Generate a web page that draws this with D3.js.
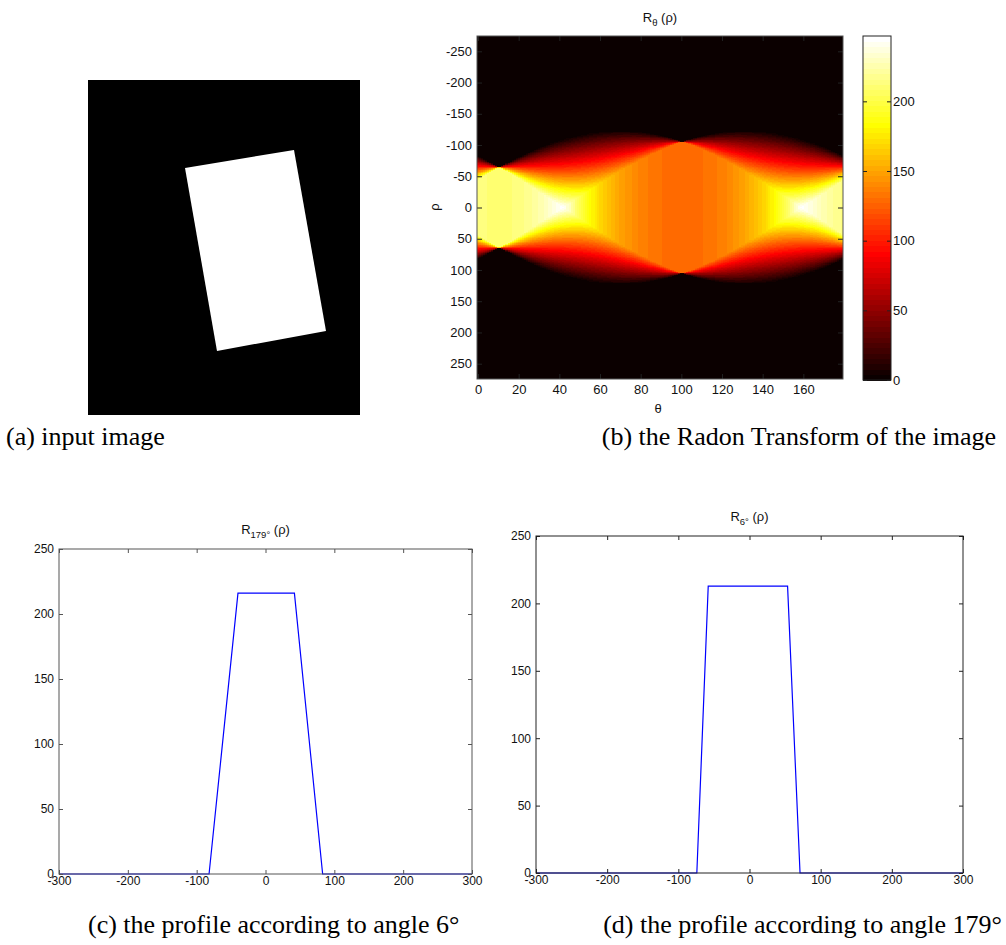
<!DOCTYPE html>
<html>
<head>
<meta charset="utf-8">
<script src="https://cdn.jsdelivr.net/npm/d3@7"></script>
<style>
  body { margin: 0; background: #fff; }
  svg { display: block; }
</style>
</head>
<body>
<div id="figure"></div>
<script>
// (a) input image: corners of the white rectangle, in image pixels
const imageSize = [272, 335];
const rectCorners = [[97, 88], [206, 70], [238, 251], [129, 271]];

// (b) radon transform of a rectangle: side lengths and rotation
const rectSides = [129, 211];
const rectAngle = 10.5;
const thetaValues = d3.range(0, 180);
const rhoMax = 274;
const thetaTicks = [0, 20, 40, 60, 80, 100, 120, 140, 160];
const rhoTicks = [-250, -200, -150, -100, -50, 0, 50, 100, 150, 200, 250];
const colorTicks = [0, 50, 100, 150, 200];

// (c), (d) profiles
const profileCRho = [-300, -82, -40, 42, 83, 300];
const profileCValue = [0, 0, 216, 216, 0, 0];
const profileDRho = [-300, -74, -58, 53.5, 71, 300];
const profileDValue = [0, 0, 212.8, 212.8, 0, 0];
const profileXTicks = [-300, -200, -100, 0, 100, 200, 300];
const profileYTicks = [0, 50, 100, 150, 200, 250];

const captions = [
    "(a) input image",
    "(b) the Radon Transform of the image",
    "(c) the profile according to angle 6°",
    "(d) the profile according to angle 179°"
];

var width = 1006;
var height = 945;
var sans = "'Liberation Sans', Arial, Helvetica, sans-serif";
var serif = "'Liberation Serif', 'Times New Roman', serif";
var plain = d => String(d); // hyphen minus like matlab, not d3's unicode minus

var svg = d3.select("#figure")
    .append("svg")
        .attr("width", width)
        .attr("height", height)
        .attr("viewBox", [0, 0, width, height]);

// matlab hot(64)
var hot = d3.range(64).map(i => {
    var k = i + 1;
    var r = Math.min(1, k / 24);
    var g = Math.max(0, Math.min(1, (k - 24) / 24));
    var b = Math.max(0, Math.min(1, (k - 48) / 16));
    return d3.rgb(r * 255, g * 255, b * 255).formatHex();
});

// inward ticks on all four sides, like a matlab box
function boxAxes(g, x, y, xTicks, yTicks, opts) {
    var color = opts.color;
    var len = opts.tick;
    var fs = opts.fontSize;
    var x0 = x.range()[0], x1 = x.range()[1];
    var y0 = y.range()[0], y1 = y.range()[1];

    g.append("g")
        .attr("transform", `translate(0,${y0})`)
        .call(d3.axisBottom(x).tickValues(xTicks).tickFormat(plain).tickSize(-len).tickSizeOuter(0).tickPadding(opts.xPad))
        .call(a => a.select(".domain").remove());
    g.append("g")
        .attr("transform", `translate(0,${y1})`)
        .call(d3.axisTop(x).tickValues(xTicks).tickSize(-len).tickSizeOuter(0).tickFormat(""))
        .call(a => a.select(".domain").remove());
    g.append("g")
        .attr("transform", `translate(${x0},0)`)
        .call(d3.axisLeft(y).tickValues(yTicks).tickFormat(plain).tickSize(-len).tickSizeOuter(0).tickPadding(5))
        .call(a => a.select(".domain").remove());
    g.append("g")
        .attr("transform", `translate(${x1},0)`)
        .call(d3.axisRight(y).tickValues(yTicks).tickSize(-len).tickSizeOuter(0).tickFormat(""))
        .call(a => a.select(".domain").remove());

    g.selectAll(".tick line").attr("stroke", color);
    g.selectAll(".tick text")
        .attr("fill", "#111")
        .attr("font-family", sans)
        .attr("font-size", fs);

    g.append("rect")
        .attr("x", x0)
        .attr("y", y1)
        .attr("width", x1 - x0)
        .attr("height", y0 - y1)
        .attr("fill", "none")
        .attr("stroke", opts.boxColor || color)
        .attr("stroke-width", 1);
}

function title(g, cx, baseline, sub) {
    var t = g.append("text")
        .attr("x", cx)
        .attr("y", baseline)
        .attr("text-anchor", "middle")
        .attr("font-family", sans)
        .attr("font-size", 13)
        .attr("fill", "#111");
    t.append("tspan").text("R");
    t.append("tspan").attr("dy", 4).attr("font-size", 9.5).text(sub);
    t.append("tspan").attr("dy", -4).text(" (ρ)");
}

// ---------- (a) input image ----------
var ix = d3.scaleLinear().domain([0, imageSize[0]]).range([88, 360]);
var iy = d3.scaleLinear().domain([0, imageSize[1]]).range([80, 415]);

svg.append("rect")
    .attr("x", ix(0))
    .attr("y", iy(0))
    .attr("width", ix(imageSize[0]) - ix(0))
    .attr("height", iy(imageSize[1]) - iy(0))
    .attr("fill", "#000");

svg.append("path")
    .datum(rectCorners)
    .attr("fill", "#fff")
    .attr("d", d3.line().x(d => ix(d[0])).y(d => iy(d[1])).curve(d3.curveLinearClosed));

// ---------- (b) radon transform ----------
function radonValue(theta, rho) {
    var alpha = (theta - rectAngle) * Math.PI / 180;
    var w1 = Math.max(rectSides[0] * Math.abs(Math.cos(alpha)), 1e-6);
    var w2 = Math.max(rectSides[1] * Math.abs(Math.sin(alpha)), 1e-6);
    var lo = Math.max(rho - w1 / 2, -w2 / 2);
    var hi = Math.min(rho + w1 / 2, w2 / 2);
    return rectSides[0] * rectSides[1] * Math.max(0, hi - lo) / (w1 * w2);
}

var rhoValues = d3.range(-rhoMax, rhoMax + 1);
var sinogram = thetaValues.map(t => rhoValues.map(r => radonValue(t, r)));
var cmax = d3.max(sinogram, col => d3.max(col));

var hx = d3.scaleLinear().domain([-0.5, 179.5]).range([477, 843]);
var hy = d3.scaleLinear().domain([-rhoMax - 0.5, rhoMax + 0.5]).range([36, 379]);
var color = d3.scaleQuantize().domain([0, cmax]).range(hot);

// merge vertical runs of the same colour into one rect
var cells = [];
thetaValues.forEach((t, i) => {
    var col = sinogram[i];
    var start = 0;
    for (var j = 1; j <= col.length; j++) {
        if (j == col.length || color(col[j]) != color(col[start])) {
            cells.push({theta: t, r0: rhoValues[start], r1: rhoValues[j - 1], c: color(col[start])});
            start = j;
        }
    }
});

var heat = svg.append("g");
heat.append("g")
    .attr("shape-rendering", "crispEdges")
    .selectAll("rect")
    .data(cells)
    .join("rect")
        .attr("x", d => hx(d.theta - 0.5))
        .attr("y", d => hy(d.r0 - 0.5))
        .attr("width", d => hx(d.theta + 0.5) - hx(d.theta - 0.5) + 0.3)
        .attr("height", d => hy(d.r1 + 0.5) - hy(d.r0 - 0.5) + 0.3)
        .attr("fill", d => d.c);

// rho grows downwards (matlab "axis ij"): same mapping as hy, range written bottom-first
var heatY = d3.scaleLinear().domain([rhoMax + 0.5, -rhoMax - 0.5]).range([379, 36]);

boxAxes(heat, hx, heatY, thetaTicks, rhoTicks,
    {color: "#222", boxColor: "#555", tick: 5, fontSize: 13, xPad: 6});

title(svg, 660, 22, "θ");

svg.append("text")
    .attr("x", 658)
    .attr("y", 413)
    .attr("text-anchor", "middle")
    .attr("font-family", sans)
    .attr("font-size", 13)
    .attr("fill", "#111")
    .text("θ");

svg.append("text")
    .attr("transform", "translate(439,207) rotate(-90)")
    .attr("text-anchor", "middle")
    .attr("font-family", sans)
    .attr("font-size", 13)
    .attr("fill", "#111")
    .text("ρ");

// colorbar
var cb = d3.scaleLinear().domain([0, cmax]).range([380, 36]);
var cbg = svg.append("g");
cbg.append("g")
    .attr("shape-rendering", "crispEdges")
    .selectAll("rect")
    .data(hot)
    .join("rect")
        .attr("x", 863)
        .attr("width", 28)
        .attr("y", (d, i) => cb((i + 1) * cmax / 64))
        .attr("height", (d, i) => cb(i * cmax / 64) - cb((i + 1) * cmax / 64) + 0.5)
        .attr("fill", d => d);

cbg.append("g")
    .attr("transform", "translate(891,0)")
    .call(d3.axisRight(cb).tickValues(colorTicks).tickFormat(plain).tickSize(-4).tickSizeOuter(0).tickPadding(2))
    .call(a => a.select(".domain").remove());
cbg.append("g")
    .attr("transform", "translate(863,0)")
    .call(d3.axisLeft(cb).tickValues(colorTicks).tickSize(-4).tickSizeOuter(0).tickFormat(""))
    .call(a => a.select(".domain").remove());
cbg.selectAll(".tick line").attr("stroke", "#222");
cbg.selectAll(".tick text")
    .attr("fill", "#111")
    .attr("font-family", sans)
    .attr("font-size", 13);
cbg.append("rect")
    .attr("x", 863)
    .attr("y", 36)
    .attr("width", 28)
    .attr("height", 344)
    .attr("fill", "none")
    .attr("stroke", "#222");

// ---------- (c), (d) profiles ----------
function profile(rhos, vals, xr, yr, sub, titleY, axisColor) {
    var x = d3.scaleLinear().domain([-300, 300]).range(xr);
    var y = d3.scaleLinear().domain([0, 250]).range(yr);
    var g = svg.append("g");
    var pts = rhos.map((r, i) => ({rho: r, value: vals[i]}));

    g.append("path")
        .datum(pts)
        .attr("fill", "none")
        .attr("stroke", "#0000ff")
        .attr("stroke-width", 1.2)
        .attr("d", d3.line().x(d => x(d.rho)).y(d => y(d.value)));

    boxAxes(g, x, y, profileXTicks, profileYTicks,
        {color: axisColor, tick: 4, fontSize: 12, xPad: 2});

    title(g, (xr[0] + xr[1]) / 2, titleY, sub);
}

profile(profileCRho, profileCValue, [59, 472], [874, 549], "179°", 534, "#555");
profile(profileDRho, profileDValue, [536, 963], [873, 536], "6°", 521, "#222");

// ---------- captions ----------
var capPos = [[6, 445, "start"], [996, 445, "end"], [88, 933, "start"], [1002, 933, "end"]];
svg.selectAll(".caption")
    .data(captions)
    .join("text")
        .attr("class", "caption")
        .attr("x", (d, i) => capPos[i][0])
        .attr("y", (d, i) => capPos[i][1])
        .attr("text-anchor", (d, i) => capPos[i][2])
        .attr("font-family", serif)
        .attr("font-size", 26)
        .attr("fill", "#000")
        .text(d => d);
</script>
</body>
</html>
